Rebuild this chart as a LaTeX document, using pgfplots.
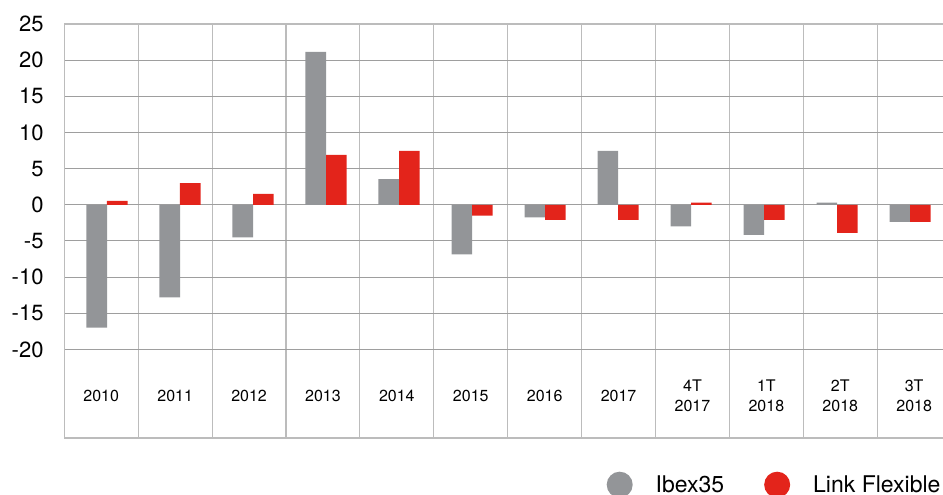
\documentclass[border=0pt]{standalone}
\usepackage{fontspec}
\setmainfont{TeX Gyre Heros}
\usepackage{pgfplots}
\pgfplotsset{compat=1.18}
\definecolor{ibgray}{RGB}{147,149,152}
\definecolor{ibred}{RGB}{227,36,27}
\definecolor{hgrid}{RGB}{158,158,158}
\definecolor{vgrid}{RGB}{188,188,188}
\begin{document}
\begin{tikzpicture}
\begin{axis}[
  at={(0,0)}, anchor=south west,
  scale only axis,
  width=886.8pt, height=414pt,
  xmin=-0.5, xmax=11.5,
  ymin=-32.25, ymax=25,
  ytick={-20,-15,...,25},
  yticklabels={-20,-15,-10,-5,0,5,10,15,20,25},
  xtick={0,...,11},
  xticklabels={2010,2011,2012,2013,2014,2015,2016,2017,{4T\\2017},{1T\\2018},{2T\\2018},{3T\\2018}},
  minor xtick={0.5,1.5,2.5,3.5,4.5,5.5,6.5,7.5,8.5,9.5,10.5},
  major tick length=0pt, minor tick length=0pt,
  ymajorgrids=true, xminorgrids=true,
  major grid style={draw=hgrid, line width=1.1pt},
  minor grid style={draw=vgrid, line width=1.1pt},
  axis line style={draw=vgrid, line width=1.1pt},
  yticklabel style={anchor=east, inner sep=0pt, xshift=-20.6pt, font=\fontsize{22}{26}\selectfont},
  xticklabel style={anchor=center, inner sep=0pt, yshift=42pt, align=center, font=\fontsize{16}{20.5}\selectfont},
  legend style={font=\fontsize{23}{27}\selectfont, draw=none, fill=none, legend columns=-1,
    inner sep=0pt, outer sep=0pt, nodes={inner sep=0pt},
    /tikz/every odd column/.append style={column sep=23pt},
    /tikz/every even column/.append style={column sep=40pt},
    at={(0,0)}, anchor=west, xshift=542.4pt, yshift=-46.7pt},
]
\addplot[ybar, bar width=0.279, bar shift=0pt, fill=ibgray, draw=none,
  legend image code/.code={\fill[ibgray] (13pt,0pt) circle (13pt);}]
  coordinates {(-0.061,-17.0) (0.927,-12.8) (1.915,-4.5) (2.903,21.15) (3.891,3.55) (4.879,-6.85) (5.867,-1.75) (6.855,7.45) (7.843,-3.0) (8.831,-4.15) (9.819,0.3) (10.807,-2.35)};
\addlegendentry{Ibex35}
\addplot[ybar, bar width=0.279, bar shift=0pt, fill=ibred, draw=none,
  legend image code/.code={\fill[ibred] (13pt,0pt) circle (13pt);}]
  coordinates {(0.217,0.55) (1.205,3.0) (2.193,1.5) (3.181,6.9) (4.169,7.45) (5.157,-1.5) (6.145,-2.1) (7.133,-2.1) (8.121,0.3) (9.109,-2.1) (10.097,-3.9) (11.085,-2.35)};
\addlegendentry{Link Flexible}
\end{axis}
\pgfresetboundingbox
\path[use as bounding box] (-64.3pt,-57pt) rectangle (878.7pt,438pt);
\end{tikzpicture}
\end{document}
